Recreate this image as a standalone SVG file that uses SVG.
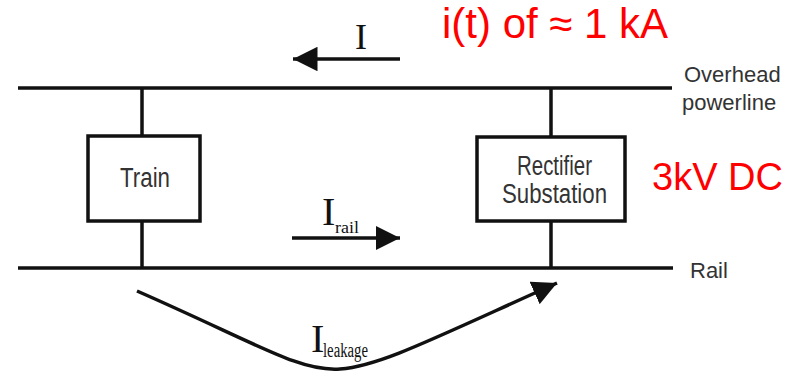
<svg xmlns="http://www.w3.org/2000/svg" width="797" height="372" viewBox="0 0 797 372">
<style>
.ln{stroke:#111;stroke-width:3.5;fill:none}
.box{stroke:#111;stroke-width:3.5;fill:#fff}
.lbl{font-family:"Liberation Sans",Arial,sans-serif;fill:#333;font-size:27px}
.side{font-family:"Liberation Sans",Arial,sans-serif;fill:#333;font-size:22px}
.red{font-family:"Liberation Sans",Arial,sans-serif;fill:#ff0000}
.ser{font-family:"Liberation Serif","Times New Roman",serif;fill:#111}
</style>
<defs>
<marker id="ah" viewBox="0 0 10 10" refX="10" refY="5" markerWidth="7" markerHeight="7" markerUnits="strokeWidth" orient="auto">
<path d="M0,0 L10,5 L0,10 z" fill="#111"/>
</marker>
</defs>
<g id="connectors">
<line class="ln" x1="18" y1="88" x2="672" y2="88"/>
<line class="ln" x1="18" y1="268" x2="673" y2="268"/>
<line class="ln" x1="142" y1="88" x2="142" y2="136"/>
<line class="ln" x1="142" y1="221" x2="142" y2="268"/>
<line class="ln" x1="551" y1="88" x2="551" y2="137"/>
<line class="ln" x1="551" y1="221" x2="551" y2="268"/>
<line class="ln" x1="400" y1="59" x2="293" y2="59" marker-end="url(#ah)"/>
<line class="ln" x1="292" y1="238" x2="400" y2="238" marker-end="url(#ah)"/>
<path class="ln" d="M137,291 C260,345 300,372 340,369 C380,366 430,340 557,283" marker-end="url(#ah)"/>
</g>
<g id="train">
<rect class="box" x="88" y="136" width="112" height="85"/>
<text class="lbl" x="120" y="187" textLength="50" lengthAdjust="spacingAndGlyphs">Train</text>
</g>
<g id="rectifier">
<rect class="box" x="477" y="137" width="148" height="84"/>
<text class="lbl" x="517" y="175" textLength="75" lengthAdjust="spacingAndGlyphs">Rectifier</text>
<text class="lbl" x="502" y="203" textLength="105" lengthAdjust="spacingAndGlyphs">Substation</text>
</g>
<g id="labels">
<text class="side" x="684" y="82">Overhead</text>
<text class="side" x="682" y="110">powerline</text>
<text class="side" x="690" y="278">Rail</text>
<text class="red" x="652" y="190" font-size="38">3kV DC</text>
<text class="red" x="442" y="38" font-size="42">i(t) of ≈ 1 kA</text>
<text class="ser" x="355" y="49" font-size="36">I</text>
<text class="ser" x="322" y="225" font-size="40">I</text>
<text class="ser" x="335" y="233" font-size="17" textLength="24" lengthAdjust="spacingAndGlyphs">rail</text>
<text class="ser" x="311" y="352" font-size="40">I</text>
<text class="ser" x="323" y="357" font-size="20" textLength="45" lengthAdjust="spacingAndGlyphs">leakage</text>
</g>
</svg>
